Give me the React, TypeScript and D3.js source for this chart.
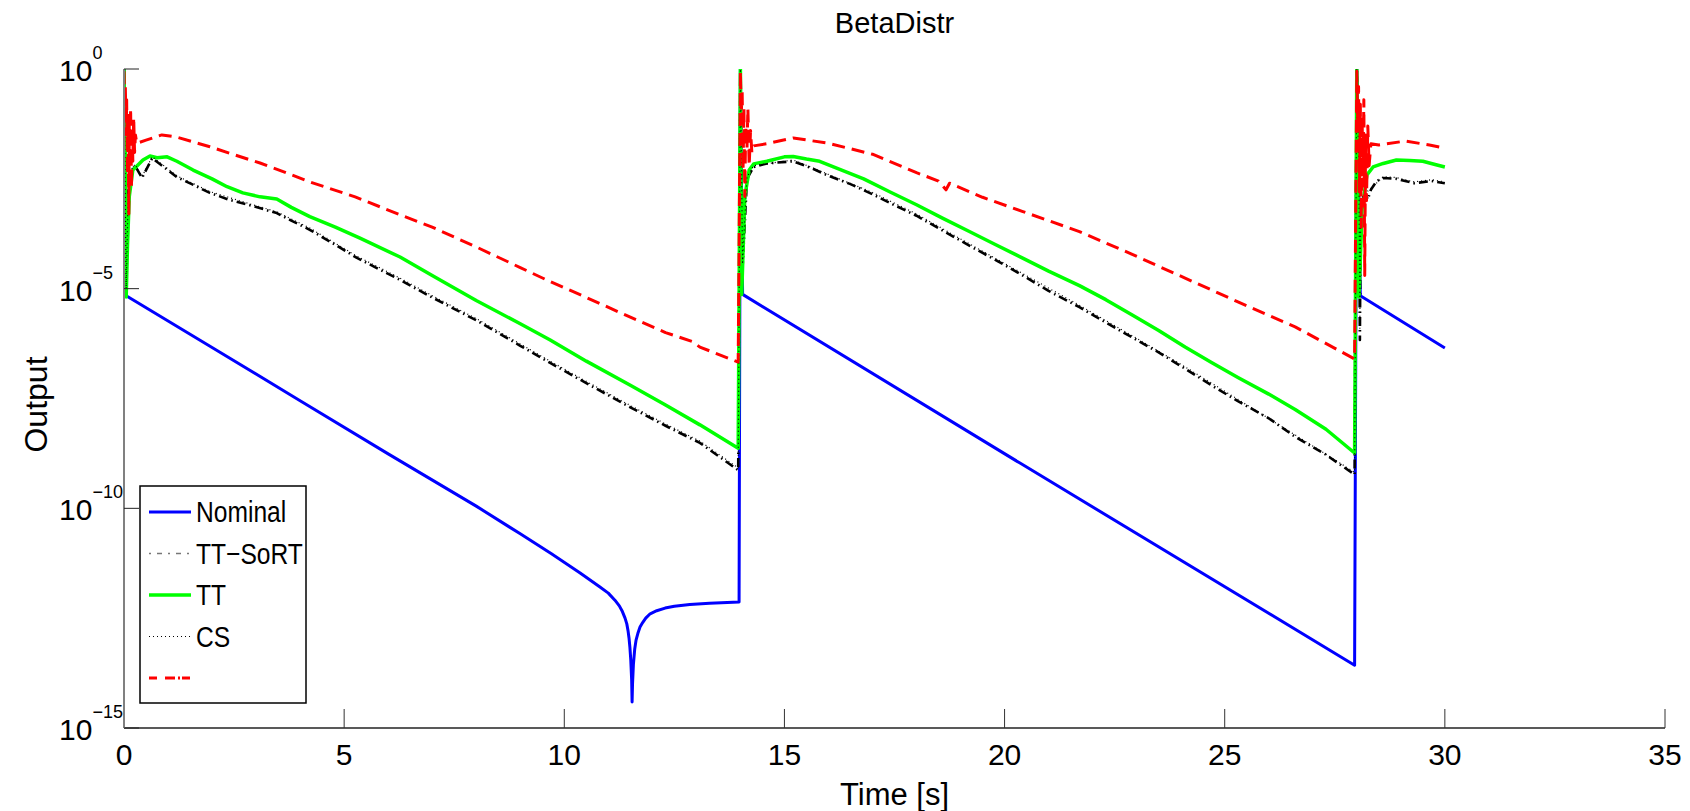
import React from 'react'
import * as d3 from 'd3'

// values are [time in s, log10(output)]
type Pt = [number, number]

const width = 1690,
      height = 811,
      left = 124,
      right = 1665,
      top = 69,
      bottom = 728

const font = '"Liberation Sans", Arial, Helvetica, sans-serif'

const title = 'BetaDistr'
const xLabel = 'Time [s]'
const yLabel = 'Output'
const xTicks = [0, 5, 10, 15, 20, 25, 30, 35]
const yTickExps = [0, -5, -10, -15]
const legendLabels = ['Nominal', 'TT\u2212SoRT', 'TT', 'CS', '']

const nominal: Pt[] = [
  [0, 0], [0.05, -5.16], [2, -6.34], [4, -7.55], [6, -8.76], [8, -9.95], [9, -10.58], [9.7, -11.03],
  [10.36, -11.47], [10.81, -11.79], [11.0, -11.93], [11.15, -12.09], [11.25, -12.22], [11.32, -12.35],
  [11.38, -12.5], [11.42, -12.63], [11.45, -12.8], [11.47, -12.95], [11.49, -13.16], [11.51, -13.45],
  [11.53, -13.9], [11.54, -14.41], [11.55, -14.0], [11.57, -13.55], [11.6, -13.2], [11.63, -13.0],
  [11.67, -12.85], [11.72, -12.7], [11.78, -12.6], [11.85, -12.5], [11.95, -12.4], [12.1, -12.33],
  [12.29, -12.27], [12.5, -12.23], [12.85, -12.19], [13.3, -12.16], [13.97, -12.13],
  [14.0, 0], [14.05, -5.13], [20.35, -8.97], [27.95, -13.57],
  [28.0, 0], [28.08, -5.16], [30, -6.35]
]

const ttSort: Pt[] = [
  [0, 0], [0.05, -5.05], [0.1, -2.6], [0.14, -2.37], [0.25, -2.2], [0.41, -2.48], [0.5, -2.3],
  [0.64, -2.03], [0.8, -2.15], [1.2, -2.46], [1.6, -2.65], [1.95, -2.82], [2.4, -2.98], [2.86, -3.1],
  [3.2, -3.2], [3.47, -3.28], [3.8, -3.45], [4.22, -3.66], [4.8, -4.0], [5.29, -4.3], [6.27, -4.8],
  [7.0, -5.2], [8.0, -5.72], [9.0, -6.3], [9.68, -6.69], [10.5, -7.15], [11.5, -7.7], [12.3, -8.12],
  [13.08, -8.51], [13.95, -9.13],
  [14.0, 0], [14.05, -4.5], [14.15, -2.5], [14.3, -2.23], [14.6, -2.15], [15.2, -2.1], [15.6, -2.25],
  [16, -2.43], [16.5, -2.62], [17, -2.85], [17.5, -3.1], [18, -3.34], [18.6, -3.68], [19.2, -4.02],
  [19.8, -4.35], [20.4, -4.69], [21.0, -5.05], [21.7, -5.42], [22.3, -5.77], [22.9, -6.11],
  [23.5, -6.45], [24.1, -6.82], [24.7, -7.2], [25.3, -7.56], [26.0, -7.95], [26.6, -8.37],
  [27.3, -8.78], [27.95, -9.23],
  [28.0, 0], [28.05, -2.5], [28.07, -6.17], [28.09, -3.0], [28.15, -2.95], [28.2, -2.85],
  [28.25, -2.97], [28.32, -2.75], [28.45, -2.55], [28.6, -2.48], [28.9, -2.5], [29.3, -2.6],
  [29.7, -2.55], [30, -2.6]
]

const tt: Pt[] = [
  [0, 0], [0.03, -2], [0.05, -5.19], [0.08, -4.0], [0.12, -2.9], [0.2, -2.3], [0.3, -2.2],
  [0.43, -2.07], [0.59, -1.98], [0.75, -2.02], [0.98, -2.0], [1.2, -2.1], [1.57, -2.3], [2.0, -2.5],
  [2.34, -2.68], [2.7, -2.82], [3.09, -2.91], [3.47, -2.96], [3.8, -3.15], [4.22, -3.36], [4.8, -3.6],
  [5.36, -3.85], [6.27, -4.28], [7.0, -4.7], [8.0, -5.27], [9.0, -5.8], [9.68, -6.17], [10.5, -6.65],
  [11.5, -7.2], [12.3, -7.65], [13.08, -8.1], [13.95, -8.63],
  [14.0, 0], [14.03, -5.13], [14.1, -2.9], [14.2, -2.3], [14.3, -2.16], [14.6, -2.1], [15.0, -2.0],
  [15.2, -1.99], [15.5, -2.05], [15.8, -2.1], [16.3, -2.3], [16.8, -2.5], [17.4, -2.8], [18, -3.09],
  [18.6, -3.4], [19.2, -3.7], [19.8, -4.0], [20.4, -4.3], [21.0, -4.6], [21.7, -4.93], [22.3, -5.25],
  [22.9, -5.6], [23.5, -5.95], [24.1, -6.33], [24.7, -6.68], [25.3, -7.02], [26.0, -7.4],
  [26.6, -7.75], [27.3, -8.2], [27.95, -8.74],
  [28.0, 0], [28.05, -5.19], [28.12, -3.2], [28.23, -2.41], [28.37, -2.23], [28.6, -2.15],
  [28.9, -2.07], [29.2, -2.08], [29.5, -2.1], [29.8, -2.18], [30, -2.23]
]

const cs: Pt[] = [
  [0, 0], [0.05, -5.0], [0.1, -2.55], [0.14, -2.33], [0.25, -2.17], [0.41, -2.45], [0.5, -2.27],
  [0.64, -2.0], [0.8, -2.12], [1.2, -2.43], [1.95, -2.79], [2.86, -3.07], [3.47, -3.25], [4.22, -3.62],
  [5.29, -4.26], [6.27, -4.76], [7.0, -5.16], [8.0, -5.68], [9.0, -6.26], [9.68, -6.65], [10.5, -7.11],
  [11.5, -7.66], [12.3, -8.08], [13.08, -8.47], [13.95, -9.08],
  [14.0, 0], [14.05, -4.4], [14.15, -2.46], [14.3, -2.2], [15.2, -2.07], [16, -2.4], [17, -2.81],
  [18, -3.3], [19.2, -3.98], [20.4, -4.65], [21.7, -5.38], [22.9, -6.07], [24.1, -6.78], [25.3, -7.52],
  [26.6, -8.33], [27.95, -9.18],
  [28.0, 0], [28.05, -2.45], [28.07, -5.9], [28.09, -2.96], [28.2, -2.82], [28.32, -2.72],
  [28.6, -2.45], [28.9, -2.47], [29.3, -2.57], [29.7, -2.52], [30, -2.57]
]

const redLine: Pt[] = [
  [0, -0.05], [0.02, -0.9], [0.03, -0.4], [0.05, -1.5], [0.06, -0.7], [0.08, -2.4], [0.09, -1.0],
  [0.11, -3.3], [0.12, -1.2], [0.14, -2.0], [0.15, -0.9], [0.17, -2.7], [0.19, -1.3], [0.2, -2.1],
  [0.22, -1.1], [0.24, -1.9], [0.26, -1.5], [0.29, -1.69], [0.5, -1.62], [0.86, -1.5], [1.2, -1.55],
  [1.95, -1.77], [2.5, -1.95], [3.09, -2.14], [3.6, -2.33], [4.22, -2.57], [5.25, -2.91], [6.27, -3.32],
  [7.0, -3.6], [8.0, -4.05], [9.0, -4.52], [9.68, -4.84], [10.5, -5.2], [11.5, -5.65], [12.3, -6.0],
  [12.9, -6.2], [13.08, -6.33], [13.95, -6.67],
  [14.0, -0.05], [14.02, -1.0], [14.04, -0.5], [14.06, -2.3], [14.08, -0.9], [14.1, -2.9], [14.12, -1.3],
  [14.15, -1.8], [14.17, -0.9], [14.2, -2.2], [14.23, -1.4], [14.26, -1.9], [14.3, -1.75], [14.6, -1.7],
  [15.2, -1.57], [16, -1.69], [17, -1.94], [18, -2.36], [18.5, -2.55], [18.67, -2.75], [18.75, -2.6],
  [19.5, -2.92], [20.4, -3.24], [21.7, -3.7], [22.9, -4.22], [24.1, -4.76], [25.3, -5.3], [26.6, -5.87],
  [27.95, -6.6],
  [28.0, -0.05], [28.02, -1.2], [28.04, -0.4], [28.06, -2.8], [28.08, -0.8], [28.1, -3.6], [28.12, -1.1],
  [28.14, -2.4], [28.16, -0.7], [28.18, -4.7], [28.2, -1.5], [28.22, -3.0], [28.25, -1.3], [28.28, -2.2],
  [28.32, -1.7], [28.5, -1.73], [29.1, -1.64], [29.65, -1.73], [30, -1.8]
]

const xScale = d3.scaleLinear().domain([0, 35]).range([left, right])
const yScale = d3.scaleLog().domain([1e-15, 1]).range([bottom, top])

const line = d3.line<Pt>()
  .x(d => xScale(d[0]))
  .y(d => yScale(Math.pow(10, d[1])))

// drawn in legend order, the red one ends on top
const series = [
  { data: nominal, color: '#0000ff', width: 3, dash: 'none' },
  { data: ttSort, color: '#000000', width: 2.6, dash: '9,4,1.5,4' },
  { data: tt, color: '#00ff00', width: 3.5, dash: 'none' },
  { data: cs, color: '#000000', width: 1.2, dash: '1,3' },
  { data: redLine, color: '#ff0000', width: 3, dash: '13,7' }
]

const legendStyles = [
  { color: '#0000ff', width: 3, dash: 'none' },
  { color: '#777777', width: 1.5, dash: '2,6,5,6' },
  { color: '#00ff00', width: 3.5, dash: 'none' },
  { color: '#000000', width: 1.2, dash: '1,3' },
  { color: '#ff0000', width: 3, dash: '8,8,10,3,2,2,8,8' }
]

const App = () => {
  const legendX = 140, legendY = 486, legendW = 166, legendH = 217
  return (
    <svg width={width} height={height}
      style={{ position: 'absolute', left: 0, top: 0, background: '#fff', fontFamily: font }}>
      <defs>
        <clipPath id="plotArea">
          <rect x={left} y={top} width={right - left} height={bottom - top} />
        </clipPath>
      </defs>

      <text x={(left + right) / 2} y={33} textAnchor="middle" fontSize={29}>
        {title}
      </text>

      {/* curves */}
      <g clipPath="url(#plotArea)">
        {series.map((s, i) => (
          <path key={i} d={line(s.data) || ''} fill="none" stroke={s.color} strokeWidth={s.width}
            strokeDasharray={s.dash} strokeLinejoin="round" />
        ))}
      </g>

      {/* x axis */}
      <g>
        <line x1={left} x2={right} y1={bottom} y2={bottom} stroke="#222" strokeWidth={1.5} />
        {xTicks.map(d => (
          <g key={d} transform={`translate(${xScale(d)}, ${bottom})`}>
            <line x1={0} x2={0} y1={0} y2={-19} stroke="#333" strokeWidth={1} />
            <text y={37} textAnchor="middle" fontSize={30}>{d}</text>
          </g>
        ))}
        <text x={(left + right) / 2} y={805} textAnchor="middle" fontSize={31}>{xLabel}</text>
      </g>

      {/* y axis */}
      <g>
        <line x1={left} x2={left} y1={top} y2={bottom} stroke="#808080" strokeWidth={2} />
        {yTickExps.map(e => (
          <g key={e} transform={`translate(0, ${yScale(Math.pow(10, e))})`}>
            <line x1={left} x2={left + 15} y1={0} y2={0} stroke="#222" strokeWidth={1} />
            <text x={59} y={12} fontSize={30}>
              10<tspan dy={-22} fontSize={18}>{e < 0 ? '\u2212' + Math.abs(e) : e}</tspan>
            </text>
          </g>
        ))}
        <text transform={`translate(47, ${(top + bottom) / 2 + 6}) rotate(-90)`} textAnchor="middle" fontSize={32}>
          {yLabel}
        </text>
      </g>

      {/* legend */}
      <g>
        <rect x={legendX} y={legendY} width={legendW} height={legendH} fill="#fff" stroke="#000" strokeWidth={1.5} />
        {legendLabels.map((label, i) => {
          const cy = 512 + i * 41.5
          const st = legendStyles[i]
          return (
            <g key={i}>
              <line x1={149} x2={191} y1={cy} y2={cy} stroke={st.color} strokeWidth={st.width} strokeDasharray={st.dash} />
              <text transform={`translate(196, ${cy + 10}) scale(0.82, 1)`} fontSize={30}>{label}</text>
            </g>
          )
        })}
      </g>
    </svg>
  )
}

export default App
